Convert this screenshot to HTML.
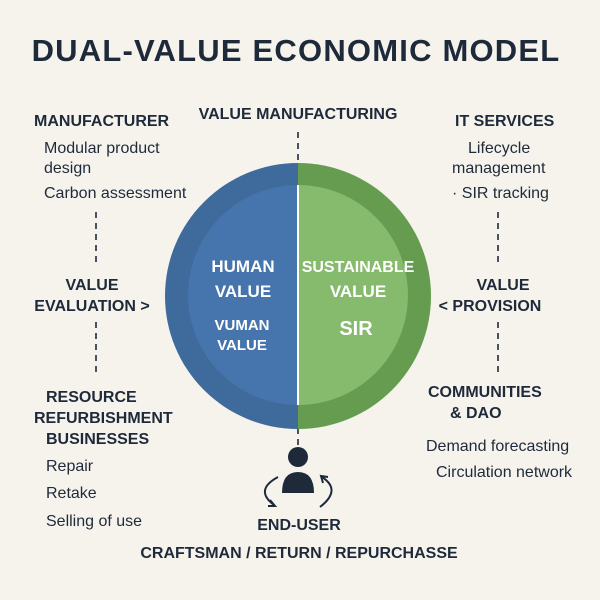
<!DOCTYPE html>
<html><head><meta charset="utf-8"><style>
body{margin:0;background:#f6f3ed;}
svg{display:block;font-family:"Liberation Sans",sans-serif;}
.h{font-weight:bold;fill:#1e2a3a;font-size:16px;}
.t{fill:#1e2a3a;font-size:16px;}
.w{fill:#fff;font-weight:bold;}
</style></head><body>
<svg width="600" height="600" viewBox="0 0 600 600">
<rect width="600" height="600" fill="#f6f3ed"/>
<text x="296" y="61" text-anchor="middle" font-size="31" font-weight="bold" fill="#1e2a3a" letter-spacing="1.2">DUAL-VALUE ECONOMIC MODEL</text>
<text x="298" y="119" text-anchor="middle" class="h">VALUE MANUFACTURING</text>
<text x="34" y="126" class="h">MANUFACTURER</text>
<text x="44" y="153" class="t">Modular product</text>
<text x="44" y="173" class="t">design</text>
<text x="44" y="198" class="t">Carbon assessment</text>
<text x="455" y="126" class="h">IT SERVICES</text>
<text x="468" y="153" class="t">Lifecycle</text>
<text x="452" y="173" class="t">management</text>
<text x="452" y="198" class="t">· SIR tracking</text>
<g stroke="#1e2a3a" stroke-width="1.6" stroke-dasharray="6,5">
<line x1="298" y1="132" x2="298" y2="164"/>
<line x1="298" y1="428" x2="298" y2="448"/>
<line x1="96" y1="212" x2="96" y2="262"/>
<line x1="96" y1="322" x2="96" y2="372"/>
<line x1="498" y1="212" x2="498" y2="262"/>
<line x1="498" y1="322" x2="498" y2="372"/>
</g>
<text x="92" y="290" text-anchor="middle" class="h">VALUE</text>
<text x="92" y="311" text-anchor="middle" class="h">EVALUATION &gt;</text>
<text x="503" y="290" text-anchor="middle" class="h">VALUE</text>
<text x="490" y="311" text-anchor="middle" class="h">&lt; PROVISION</text>
<path d="M298,163 A133,133 0 0 0 298,429 Z" fill="#3f6a9c"/>
<path d="M298,163 A133,133 0 0 1 298,429 Z" fill="#659c50"/>
<path d="M298,185 A110,110 0 0 0 298,405 Z" fill="#4675ad"/>
<path d="M298,185 A110,110 0 0 1 298,405 Z" fill="#86ba6c"/>
<line x1="298" y1="185" x2="298" y2="405" stroke="#fff" stroke-width="2"/>
<text x="243" y="272" text-anchor="middle" class="w" font-size="17">HUMAN</text>
<text x="243" y="297" text-anchor="middle" class="w" font-size="17">VALUE</text>
<text x="242" y="330" text-anchor="middle" class="w" font-size="15">VUMAN</text>
<text x="242" y="350" text-anchor="middle" class="w" font-size="15">VALUE</text>
<text x="358" y="272" text-anchor="middle" class="w" font-size="16">SUSTAINABLE</text>
<text x="358" y="297" text-anchor="middle" class="w" font-size="17">VALUE</text>
<text x="356" y="335" text-anchor="middle" class="w" font-size="20">SIR</text>
<text x="46" y="402" class="h">RESOURCE</text>
<text x="34" y="423" class="h">REFURBISHMENT</text>
<text x="46" y="444" class="h">BUSINESSES</text>
<text x="46" y="471" class="t">Repair</text>
<text x="46" y="498" class="t">Retake</text>
<text x="46" y="526" class="t">Selling of use</text>
<text x="428" y="397" class="h">COMMUNITIES</text>
<text x="450" y="418" class="h">&amp; DAO</text>
<text x="426" y="451" class="t">Demand forecasting</text>
<text x="436" y="477" class="t">Circulation network</text>
<circle cx="298" cy="457" r="10" fill="#1e2a3a"/>
<path d="M282,493 Q282,472 298,472 Q314,472 314,493 Z" fill="#1e2a3a"/>
<path d="M278,477 Q254,490 274,505" fill="none" stroke="#1e2a3a" stroke-width="2"/>
<path d="M270,500 L275,506 L268,506" fill="none" stroke="#1e2a3a" stroke-width="2"/>
<path d="M320,507 Q342,490 322,477" fill="none" stroke="#1e2a3a" stroke-width="2"/>
<path d="M323,483 L321,476 L328,477" fill="none" stroke="#1e2a3a" stroke-width="2"/>
<text x="299" y="530" text-anchor="middle" class="h" font-size="17">END-USER</text>
<text x="299" y="558" text-anchor="middle" class="h" font-size="13.5">CRAFTSMAN / RETURN / REPURCHASSE</text>
</svg>
</body></html>
